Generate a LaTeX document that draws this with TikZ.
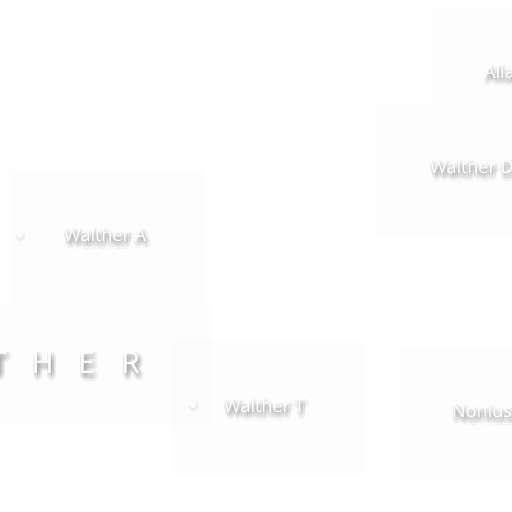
\documentclass[tikz,border=0pt]{standalone}
\usepackage{fontspec}
\setmainfont{Open Sans}
\usetikzlibrary{calc}
\pgfdeclarelayer{bg}
\pgfsetlayers{bg,main}
\tikzset{
  panel/.style={fill=black, fill opacity=0.009, draw=none},
  smudge/.style={fill=black, fill opacity=0.028, draw=none},
  lbl/.style={text=white, font=\fontsize{18}{20}\selectfont, inner sep=0pt, anchor=base west},
  biglbl/.style={text=white, font=\fontsize{30}{32}\selectfont, inner sep=0pt, anchor=base west},
  bullet/.style={circle, fill=white, draw=none, minimum size=6pt, inner sep=0pt}
}
% text with a soft drop shadow made of faint offset copies
\newcommand\shtext[4]{%
  \foreach \dx/\dy [count=\k] in {-1/1,1/0,3/0,5/1,-1/3,1/2,3/2,5/3,-1/5,1/4,3/4,5/5,0/6,2/6,4/6,1/8,3/8,2/3,2/5,2/1}{
    \node[#2, text=black, text opacity=0.032] (#1-s\k) at ($#3+(\dx,\dy)$) {#4};
  }
  \node[#2] (#1) at #3 {#4};
}
\newcommand\softbox[2]{%
  \foreach \r in {0,1.2,2.4,3.6,4.8}{
    \fill[smudge, rounded corners=\r pt+1pt] ($#1+(-\r,-\r)$) rectangle ($#2+(\r,\r)$);
  }}
\begin{document}
\begin{tikzpicture}[x=1pt,y=-1pt]
\useasboundingbox (0,0) rectangle (512,512);
% panels
\fill[panel] (432,7) rectangle (520,100);
\fill[panel] (377,103) rectangle (520,237);
\fill[panel] (10,170) rectangle (205,305);
\fill[panel] (-10,305) rectangle (210,425);
\fill[panel] (172,340) rectangle (365,475);
\fill[panel] (399,347) rectangle (520,480);
% bullets
\node[bullet] (dotA) at (20,235) {};
\node[bullet] (dotT) at (193,405) {};
\begin{pgfonlayer}{bg}
\softbox{(dotA)+(0,1)}{(dotA)+(1,2)}
\softbox{(dotT)+(0,1)}{(dotT)+(1,2)}
\end{pgfonlayer}
% labels
\shtext{alia}{lbl}{(484,78)}{Alia}
\shtext{waltherD}{lbl}{(430,173)}{Walther D}
\shtext{waltherA}{lbl}{(64,241)}{Walther A}
\shtext{waltherT}{lbl}{(224,412)}{Walther T}
\shtext{nonius}{lbl}{(452,417)}{Nonius}
\shtext{title}{biglbl}{(-23.5,373)}{\makebox[44pt]{T}\makebox[44pt]{H}\makebox[44pt]{E}\makebox[44pt]{R}}
\end{tikzpicture}
\end{document}
